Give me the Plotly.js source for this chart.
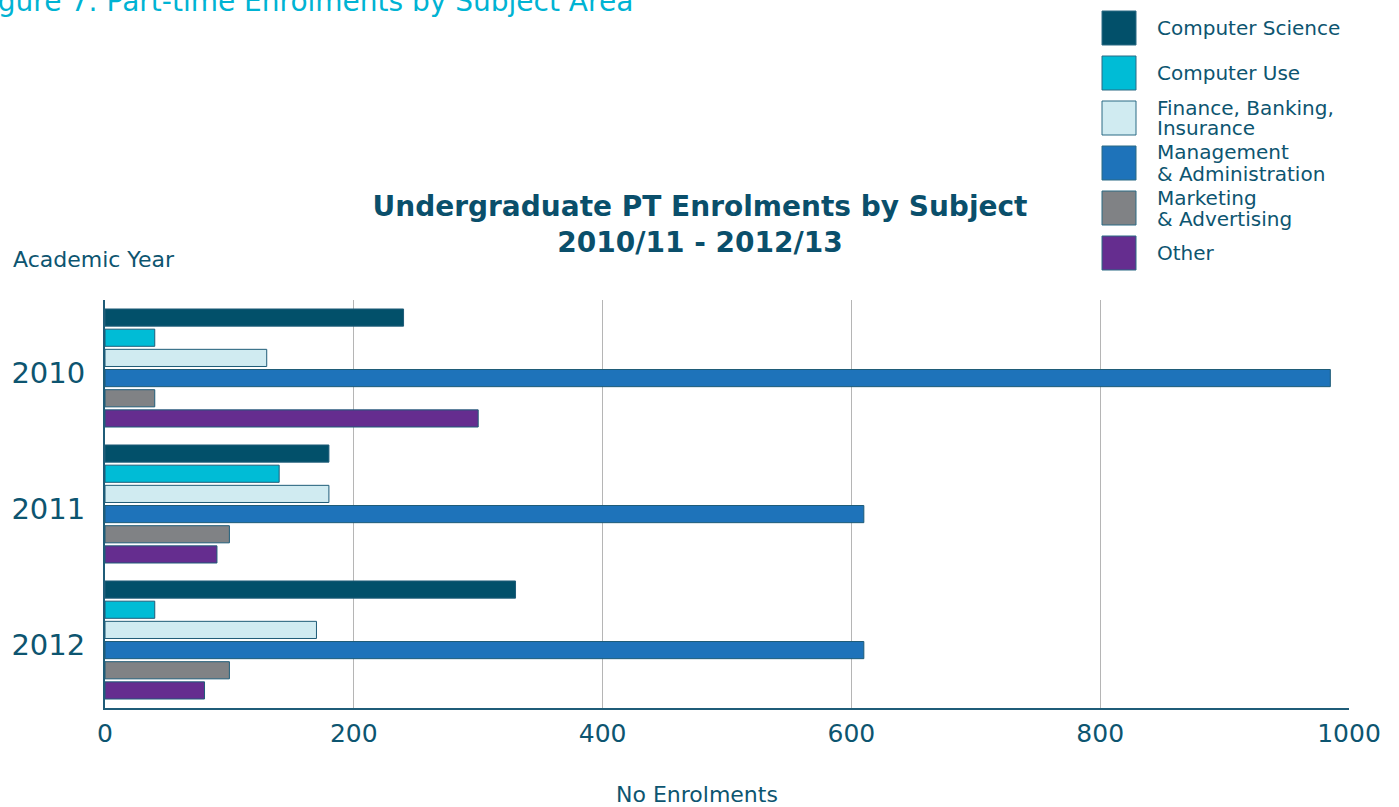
<!DOCTYPE html>
<html>
<head>
<meta charset="utf-8">
<script src="https://cdn.plot.ly/plotly-3.0.1.min.js"></script>
<style>html,body{margin:0;padding:0;background:#fff;}#chart{width:1399px;height:807px;}</style>
</head>
<body>
<div id="chart"></div>
<script>
const years = ["2010", "2011", "2012"];
const seriesNames = ["Computer Science", "Computer Use", "Finance, Banking, Insurance", "Management & Administration", "Marketing & Advertising", "Other"];
const legendLines = [["Computer Science"], ["Computer Use"], ["Finance, Banking,", "Insurance"], ["Management", "& Administration"], ["Marketing", "& Advertising"], ["Other"]];
const computerScience = [240, 180, 330];
const computerUse = [40, 140, 40];
const finance = [130, 180, 170];
const management = [985, 610, 610];
const marketing = [40, 100, 100];
const other = [300, 90, 80];
const seriesColors = ["#02506a", "#00bcd6", "#d0ebf1", "#1e73ba", "#808285", "#652d8f"];
const xTicks = [0, 200, 400, 600, 800, 1000];

const allValues = [computerScience, computerUse, finance, management, marketing, other];
const textColor = "#0d5570";
const FONT = "DejaVu Sans, sans-serif";

// pixel helpers for paper coordinates (plot area: x 105..1349, y 300..708)
const PX = x => (x - 105) / 1244;
const PY = y => 1 - (y - 300) / 408;

const traces = allValues.map((vals, i) => ({
  type: "bar",
  orientation: "h",
  name: seriesNames[i],
  y: years,
  x: vals,
  marker: {color: seriesColors[i], line: {color: "#1f5c78", width: 1}},
  showlegend: false,
  hoverinfo: "x+name"
}));

const shapes = [];
const annotations = [];
const legTop = 11, legStep = 45, box = 34;
seriesNames.forEach((n, i) => {
  const y0 = legTop + i * legStep;
  const cy = y0 + box / 2;
  shapes.push({
    type: "rect", xref: "paper", yref: "paper", layer: "above",
    x0: PX(1102), x1: PX(1136), y0: PY(y0), y1: PY(y0 + box),
    fillcolor: seriesColors[i], line: {color: "#2a6a84", width: 1}
  });
  const lines = legendLines[i];
  lines.forEach((t, k) => {
    const ly = lines.length === 1 ? cy : cy - 10.5 + 21 * k;
    annotations.push({
      xref: "paper", yref: "paper", x: PX(1155), y: PY(ly),
      xanchor: "left", yanchor: "middle", align: "left", showarrow: false,
      text: t, font: {family: FONT, size: 20, color: textColor}
    });
  });
});
annotations.push({
  xref: "paper", yref: "paper", x: PX(11), y: PY(260),
  xanchor: "left", yanchor: "middle", showarrow: false,
  text: "Academic Year", font: {family: FONT, size: 22, color: textColor}
});
annotations.push({
  xref: "paper", yref: "paper", x: PX(697), y: PY(794),
  xanchor: "center", yanchor: "middle", showarrow: false,
  text: "No Enrolments", font: {family: FONT, size: 22, color: textColor}
});
annotations.push({
  xref: "paper", yref: "paper", x: PX(-26), y: PY(1),
  xanchor: "left", yanchor: "middle", showarrow: false,
  text: "Figure 7: Part-time Enrolments by Subject Area", font: {family: FONT, size: 28, color: "#00b3d3"}
});

const layout = {
  width: 1399, height: 807,
  margin: {l: 105, r: 50, t: 300, b: 99},
  paper_bgcolor: "#fff", plot_bgcolor: "#fff",
  barmode: "group", bargap: 0.11, bargroupgap: 0.15,
  font: {family: FONT, color: textColor},
  title: {
    text: "<b>Undergraduate PT Enrolments by Subject<br>2010/11 - 2012/13</b>",
    font: {family: FONT, size: 28, color: "#0a4f6b"},
    x: 700 / 1399, xanchor: "center", xref: "container",
    y: 1 - 216 / 807, yanchor: "top", yref: "container"
  },
  xaxis: {
    range: [0, 1000], tickvals: xTicks, ticktext: xTicks.map(String),
    showgrid: true, gridcolor: "#b5b5b5", gridwidth: 1,
    zeroline: false, showline: true, linecolor: "#1f5c78", linewidth: 2,
    ticks: "", ticklabelstandoff: 2, tickfont: {family: FONT, size: 25, color: textColor}
  },
  yaxis: {
    type: "category", autorange: "reversed",
    showgrid: false, zeroline: false, showline: true, linecolor: "#1f5c78", linewidth: 2,
    ticks: "", ticklabelstandoff: 12, ticklabelshift: -5,
    tickfont: {family: FONT, size: 29, color: textColor}
  },
  shapes: shapes,
  annotations: annotations
};

Plotly.newPlot("chart", traces, layout, {displayModeBar: false, staticPlot: true});
</script>
</body>
</html>
